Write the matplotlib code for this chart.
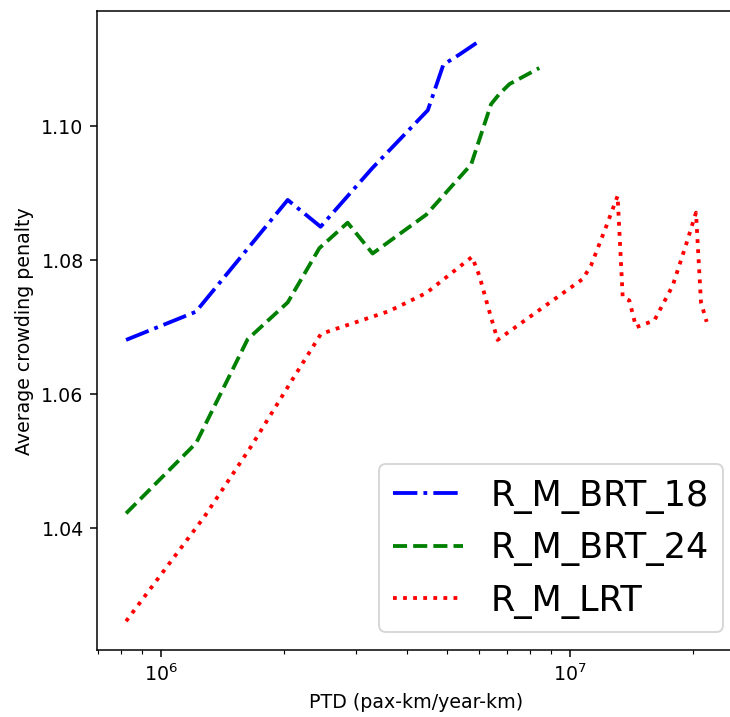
import matplotlib
matplotlib.use("Agg")
import matplotlib.pyplot as plt

# R_M_BRT_18
brt18_x = [8.21e5, 1.216e6, 2.04e6, 2.455e6, 3.29e6, 4.49e6, 4.90e6, 5.36e6, 6.06e6]
brt18_y = [1.0681, 1.0723, 1.0890, 1.0850, 1.0938, 1.1024, 1.1092, 1.1107, 1.1129]

# R_M_BRT_24
brt24_x = [8.21e5, 1.218e6, 1.628e6, 2.04e6, 2.438e6, 2.858e6, 3.29e6, 4.45e6,
           5.73e6, 6.41e6, 6.71e6, 7.11e6, 8.41e6]
brt24_y = [1.0422, 1.0527, 1.0682, 1.0737, 1.0818, 1.0856, 1.0810, 1.0868,
           1.0943, 1.1033, 1.1048, 1.1063, 1.1087]

# R_M_LRT
lrt_x = [8.21e5, 1.276e6, 1.66e6, 2.12e6, 2.46e6, 3.61e6, 4.45e6, 5.76e6, 6.0e6,
         6.29e6, 6.65e6, 1.074e7, 1.125e7, 1.225e7, 1.307e7, 1.345e7, 1.396e7,
         1.45e7, 1.607e7, 1.782e7, 1.921e7, 2.032e7, 2.09e7, 2.158e7]
lrt_y = [1.0261, 1.0417, 1.0522, 1.0627, 1.0690, 1.0724, 1.0751, 1.0805, 1.0777,
         1.0732, 1.0681, 1.0772, 1.0792, 1.0850, 1.0896, 1.0745, 1.0740,
         1.0700, 1.0710, 1.0762, 1.0823, 1.0871, 1.0737, 1.0708]

dpi = 137
fig = plt.figure(figsize=(730.2 / dpi, 717.2 / dpi), dpi=dpi)
ax = fig.add_axes([97 / 730, 1 - 650.3 / 717, (735.5 - 97) / 730, (650.3 - 11) / 717])

ax.plot(brt18_x, brt18_y, color='blue', linestyle='-.', linewidth=2, label='R_M_BRT_18')
ax.plot(brt24_x, brt24_y, color='green', linestyle='--', linewidth=2, label='R_M_BRT_24')
ax.plot(lrt_x, lrt_y, color='red', linestyle=':', linewidth=2, label='R_M_LRT')

ax.set_xscale('log')
ax.set_xlabel('PTD (pax-km/year-km)')
ax.set_ylabel('Average crowding penalty')
ax.set_yticks([1.04, 1.06, 1.08, 1.10])

ax.legend(loc='lower right', bbox_to_anchor=(0.98, 0.028), borderaxespad=0, fontsize=18.4)

fig.savefig('out.png', dpi=dpi)
